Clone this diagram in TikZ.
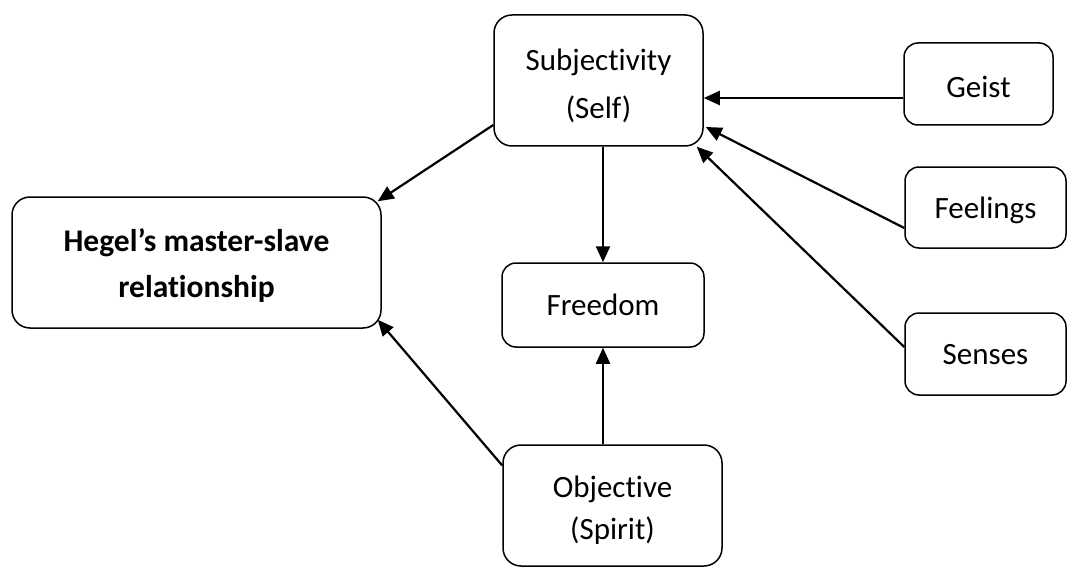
\documentclass[tikz,border=0pt]{standalone}
\usepackage{fontspec}
\setmainfont{Carlito}[Ligatures={NoCommon}]
\usetikzlibrary{arrows.meta,calc}
% lower a line of text without changing its declared size
\newcommand\txtdown[2][4pt]{\raisebox{-#1}[\height][\depth]{#2}}
\begin{document}
\begin{tikzpicture}[x=1pt,y=-1pt,
  box/.style={draw,line width=1.5pt,rounded corners=18pt,align=center,
    inner sep=0pt,font=\fontsize{31}{48}\selectfont},
  smallbox/.style={box,rounded corners=14pt},
  arr/.style={line width=2.2pt,-{Triangle[length=16pt,width=14pt]}}]
\useasboundingbox (0,0) rectangle (1068,567);

% boxes
\node[box,minimum width=209pt,minimum height=131pt] (subj) at (598.5,80.5) {\txtdown[5pt]{Subjectivity}\\\txtdown[5pt]{(Self)}};
\node[smallbox,minimum width=149pt,minimum height=82pt] (geist) at (978.5,84) {\txtdown[3pt]{Geist}};
\node[smallbox,minimum width=161pt,minimum height=81pt] (feel) at (985.5,207.5) {\txtdown[3pt]{Feelings}};
\node[smallbox,minimum width=161pt,minimum height=82pt] (sens) at (985.5,354) {\txtdown[1pt]{Senses}};
\node[box,minimum width=369pt,minimum height=131pt,font=\bfseries\fontsize{31.5}{46}\selectfont] (hegel) at (196.5,262.5) {\txtdown[3pt]{Hegel’s master-slave}\\\txtdown[3pt]{relationship}};
\node[smallbox,minimum width=202pt,minimum height=84pt] (free) at (603,305) {Freedom};
\node[box,minimum width=219pt,minimum height=121pt,font=\fontsize{31}{42}\selectfont] (obj) at (612.5,505.5) {\txtdown[5pt]{Objective}\\\txtdown[5pt]{(Spirit)}};

% connectors
\draw[arr] ([yshift=-44.5pt]subj.west) -- ([xshift=-4pt,yshift=-5pt]hegel.north east);
\draw[arr] (free.north |- subj.south) -- (free.north);
\draw[arr] (free.south |- obj.north) -- (free.south);
\draw[arr] ([yshift=40pt]obj.west) -- ([xshift=-4pt,yshift=9pt]hegel.south east);
\draw[arr] ([yshift=-14pt]geist.west) -- ([yshift=-14pt]geist.west -| subj.east);
\draw[arr] ([yshift=-20.5pt]feel.west) -- ([xshift=2pt,yshift=-46.5pt]subj.east);
\draw[arr] ([yshift=7pt]sens.west) -- ([xshift=-7pt]subj.south east);
\end{tikzpicture}
\end{document}
